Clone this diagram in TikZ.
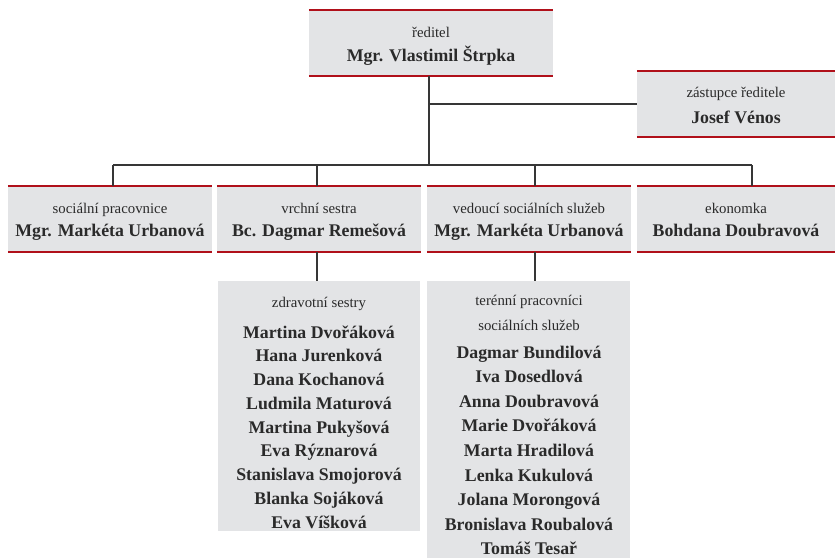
\documentclass[tikz,border=0pt]{standalone}
\usepackage{fontspec}
\setmainfont{Liberation Serif}
\definecolor{boxgray}{HTML}{E3E4E6}
\definecolor{barred}{HTML}{B0101A}
\definecolor{linegray}{HTML}{363636}
\definecolor{textgray}{HTML}{2A2A2A}
\tikzset{
  unitbox/.style={fill=boxgray, draw=none, inner sep=0pt},
  rolelabel/.style={anchor=base, text=textgray, font=\fontsize{14.8}{17}\selectfont},
  namelabel/.style={anchor=base, text=textgray, font=\fontsize{17.8}{21}\selectfont\bfseries},
  link/.style={draw=linegray, line width=1.2pt},
  topbar/.style={draw=barred, line width=2.2pt},
  botbar/.style={draw=barred, line width=1.6pt}
}
\begin{document}
\begin{tikzpicture}[x=1pt,y=-1pt]
\useasboundingbox (0,0) rectangle (835,558);

\node[unitbox, minimum width=244pt, minimum height=66pt] (dir) at (431,43) {};
\node[unitbox, minimum width=198pt, minimum height=66pt] (dep) at (736,104) {};
\node[unitbox, minimum width=204pt, minimum height=66pt] (soc) at (110,219) {};
\node[unitbox, minimum width=204pt, minimum height=66pt] (nurse) at (319,219) {};
\node[unitbox, minimum width=204pt, minimum height=66pt] (lead) at (529,219) {};
\node[unitbox, minimum width=198pt, minimum height=66pt] (econ) at (736,219) {};
\node[unitbox, minimum width=202pt, minimum height=250pt] (nurses) at (319,406) {};
\node[unitbox, minimum width=203pt, minimum height=277pt] (field) at (528.5,419.5) {};

\foreach \b in {dir,dep,soc,nurse,lead,econ} {
  \draw[topbar] (\b.north west) -- (\b.north east);
  \draw[botbar] (\b.south west) -- (\b.south east);
}

\coordinate (trunk) at (429,76);
\coordinate (busL) at (113,165);
\coordinate (busR) at (752,165);
\coordinate (j2) at (317,165);
\coordinate (j3) at (535,165);

\draw[link] (trunk) -- (trunk |- busL);
\draw[link] (trunk |- dep.west) -- (dep.west);
\draw[link] (busL) -- (busR);
\draw[link] (busL) -- (busL |- soc.north);
\draw[link] (j2) -- (j2 |- nurse.north);
\draw[link] (j3) -- (j3 |- lead.north);
\draw[link] (busR) -- (busR |- econ.north);
\draw[link] (j2 |- nurse.south) -- (j2 |- nurses.north);
\draw[link] (j3 |- lead.south) -- (j3 |- field.north);

\node[rolelabel] (dirrole) at (431,37) {ředitel};
\node[namelabel] (dirname) at (431,61) {Mgr. Vlastimil Štrpka};
\node[rolelabel] (deprole) at (736,97) {zástupce ředitele};
\node[namelabel] (depname) at (736,123) {Josef Vénos};

\node[rolelabel] (socrole) at (110,213) {sociální pracovnice};
\node[namelabel] (socname) at (110,236) {Mgr. Markéta Urbanová};
\node[rolelabel] (nurserole) at (319,213) {vrchní sestra};
\node[namelabel] (nursename) at (319,236) {Bc. Dagmar Remešová};
\node[rolelabel] (leadrole) at (529,213) {vedoucí sociálních služeb};
\node[namelabel] (leadname) at (529,236) {Mgr. Markéta Urbanová};
\node[rolelabel] (econrole) at (736,213) {ekonomka};
\node[namelabel] (econname) at (736,236) {Bohdana Doubravová};

\node[rolelabel] (nursesrole) at (319,307) {zdravotní sestry};
\foreach \n [count=\i from 0] in {Martina Dvořáková, Hana Jurenková, Dana Kochanová,
    Ludmila Maturová, Martina Pukyšová, Eva Rýznarová, Stanislava Smojorová,
    Blanka Sojáková, Eva Víšková}
  \node[namelabel] (nurses\i) at (319,338+23.75*\i) {\n};

\node[rolelabel] (fieldrole1) at (529,305) {terénní pracovníci};
\node[rolelabel] (fieldrole2) at (529,330) {sociálních služeb};
\foreach \n [count=\i from 0] in {Dagmar Bundilová, Iva Dosedlová, Anna Doubravová,
    Marie Dvořáková, Marta Hradilová, Lenka Kukulová, Jolana Morongová,
    Bronislava Roubalová, Tomáš Tesař}
  \node[namelabel] (field\i) at (529,358+24.6*\i) {\n};
\end{tikzpicture}
\end{document}
